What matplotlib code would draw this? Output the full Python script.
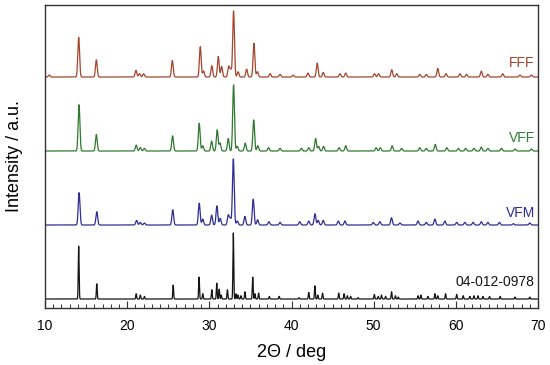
import numpy as np
import matplotlib
matplotlib.use("Agg")
import matplotlib.pyplot as plt
from matplotlib.ticker import MultipleLocator

plt.rcParams['font.family'] = ['Liberation Sans', 'DejaVu Sans']

# ---- data (peak positions in deg 2Theta, relative intensities) ----
ref_pos = [14.1, 16.3, 21.1, 21.6, 22.1, 25.6, 28.75, 29.2, 30.3, 30.9, 31.2, 31.45,
           32.2, 32.92, 33.25, 33.5, 33.85, 34.33, 35.28, 35.55, 36.0, 37.3, 38.5,
           40.9, 42.1, 42.85, 43.2, 43.78, 45.75, 46.4, 46.8, 47.2, 48.1, 50.08,
           50.55, 50.95, 51.45, 52.18, 52.65, 53.0, 55.4, 55.75, 56.6, 57.45, 57.8,
           58.75, 60.1, 60.9, 61.7, 62.2, 62.7, 63.3, 64.1, 65.4, 67.2, 69.0]
ref_int = [80, 23, 8, 6, 4, 21, 33, 8, 14, 24, 15, 6,
           14, 100, 8, 6, 5, 11, 33, 8, 9, 4, 4,
           2, 10, 20, 6, 9, 9, 8, 5, 4, 2, 7,
           4, 6, 4, 11, 5, 3, 5, 6, 4, 8, 5,
           8, 7, 5, 4, 5, 5, 4, 4, 4, 3, 3]

vfm_pos = [14.15, 16.3, 21.15, 21.6, 22.1, 25.55, 28.77, 29.2, 30.28, 30.92, 31.33,
           32.3, 32.55, 32.92, 33.4, 34.33, 35.34, 35.87, 37.25, 38.6, 41.0, 42.1,
           42.85, 43.25, 43.86, 45.7, 46.5, 49.95, 50.75, 52.17, 53.2, 55.4, 56.4,
           57.45, 58.66, 60.1, 61.1, 62.1, 63.1, 63.9, 65.3, 67.0, 69.0]
vfm_int = [49, 20, 7, 4, 3, 23, 33, 9, 15, 29, 10,
           15, 10, 100, 6, 13, 39, 8, 5, 4, 5, 6,
           17, 7, 7, 6, 6, 4, 5, 11, 3, 6, 4,
           9, 6, 4, 4, 4, 5, 4, 4, 2, 3]

vff_pos = [14.14, 16.25, 21.1, 21.6, 22.1, 25.53, 28.77, 29.2, 30.28, 30.96, 31.3,
           32.3, 32.95, 33.4, 34.37, 35.4, 35.9, 37.2, 38.6, 41.2, 42.1, 42.93,
           43.3, 43.9, 45.8, 46.6, 50.3, 50.8, 52.25, 53.4, 55.6, 56.4, 57.5,
           58.9, 60.3, 61.2, 62.2, 63.1, 63.9, 65.55, 67.2, 69.2]
vff_int = [70, 25, 9, 5, 4, 23, 42, 8, 15, 32, 12,
           19, 100, 7, 12, 47, 8, 5, 4, 4, 5, 19,
           7, 7, 5, 8, 5, 5, 8, 4, 5, 4, 10,
           5, 4, 4, 4, 6, 4, 4, 3, 3]

fff_pos = [10.5, 14.1, 16.25, 21.07, 21.5, 22.0, 25.5, 28.9, 29.3, 30.3, 31.09, 31.5,
           32.35, 32.6, 32.95, 33.5, 34.54, 35.43, 35.85, 37.4, 38.6, 40.2, 42.0,
           43.13, 43.86, 45.9, 46.6, 50.1, 50.6, 52.2, 52.8, 55.6, 56.4, 57.8,
           58.8, 60.5, 61.3, 63.1, 63.9, 65.7, 67.8, 69.2]
fff_int = [3, 60, 26, 10, 5, 5, 25, 46, 9, 17, 31, 16,
           16, 11, 100, 8, 12, 51, 8, 5, 4, 3, 6,
           21, 7, 5, 6, 5, 5, 11, 5, 4, 4, 13,
           5, 5, 4, 9, 4, 5, 3, 3]

labels = ['04-012-0978', 'VFM', 'VFF', 'FFF']
offsets = [0, 112, 224, 336]
line_colors = ['#141414', '#2e2e96', '#2f7a2f', '#a5452e']
text_colors = ['#141414', '#2a2aa0', '#2e7d32', '#a0442e']
fwhms = [0.12, 0.25, 0.25, 0.25]

series = [(ref_pos, ref_int), (vfm_pos, vfm_int), (vff_pos, vff_int), (fff_pos, fff_int)]

fig = plt.figure(figsize=(5.5, 3.65), dpi=100)
ax = fig.add_axes([45/550, 1 - 308/365, (538 - 45)/550, (308 - 5)/365])

x = np.linspace(10, 70, 6001)
for (pos, inten), off, c, fw in zip(series, offsets, line_colors, fwhms):
    sig = fw / 2.355
    y = np.zeros_like(x)
    for p, h in zip(pos, inten):
        y += h * np.exp(-0.5 * ((x - p) / sig) ** 2)
    ax.plot(x, y + off, color=c, lw=0.9)

label_y = [26, 130, 244, 357]
for lab, ly, tc in zip(labels, label_y, text_colors):
    ax.text(69.6, ly, lab, color=tc, fontsize=10, ha='right', va='center')

ax.set_xlim(10, 70)
ax.set_ylim(-13.6, 445)
ax.xaxis.set_major_locator(MultipleLocator(10))
ax.xaxis.set_minor_locator(MultipleLocator(1))
ax.set_yticks([])
ax.tick_params(axis='x', which='major', direction='in', length=5, width=0.8,
               labelsize=10, colors='#333333', labelcolor='black', pad=8)
ax.tick_params(axis='x', which='minor', direction='in', length=3, width=0.7,
               colors='#333333')
for s in ax.spines.values():
    s.set_color('#333333')
    s.set_linewidth(1.0)

ax.set_xlabel('2\u0398 / deg', fontsize=13, labelpad=8)
ax.set_ylabel('Intensity / a.u.', fontsize=13, labelpad=16)

fig.savefig('out.png', dpi=100)
